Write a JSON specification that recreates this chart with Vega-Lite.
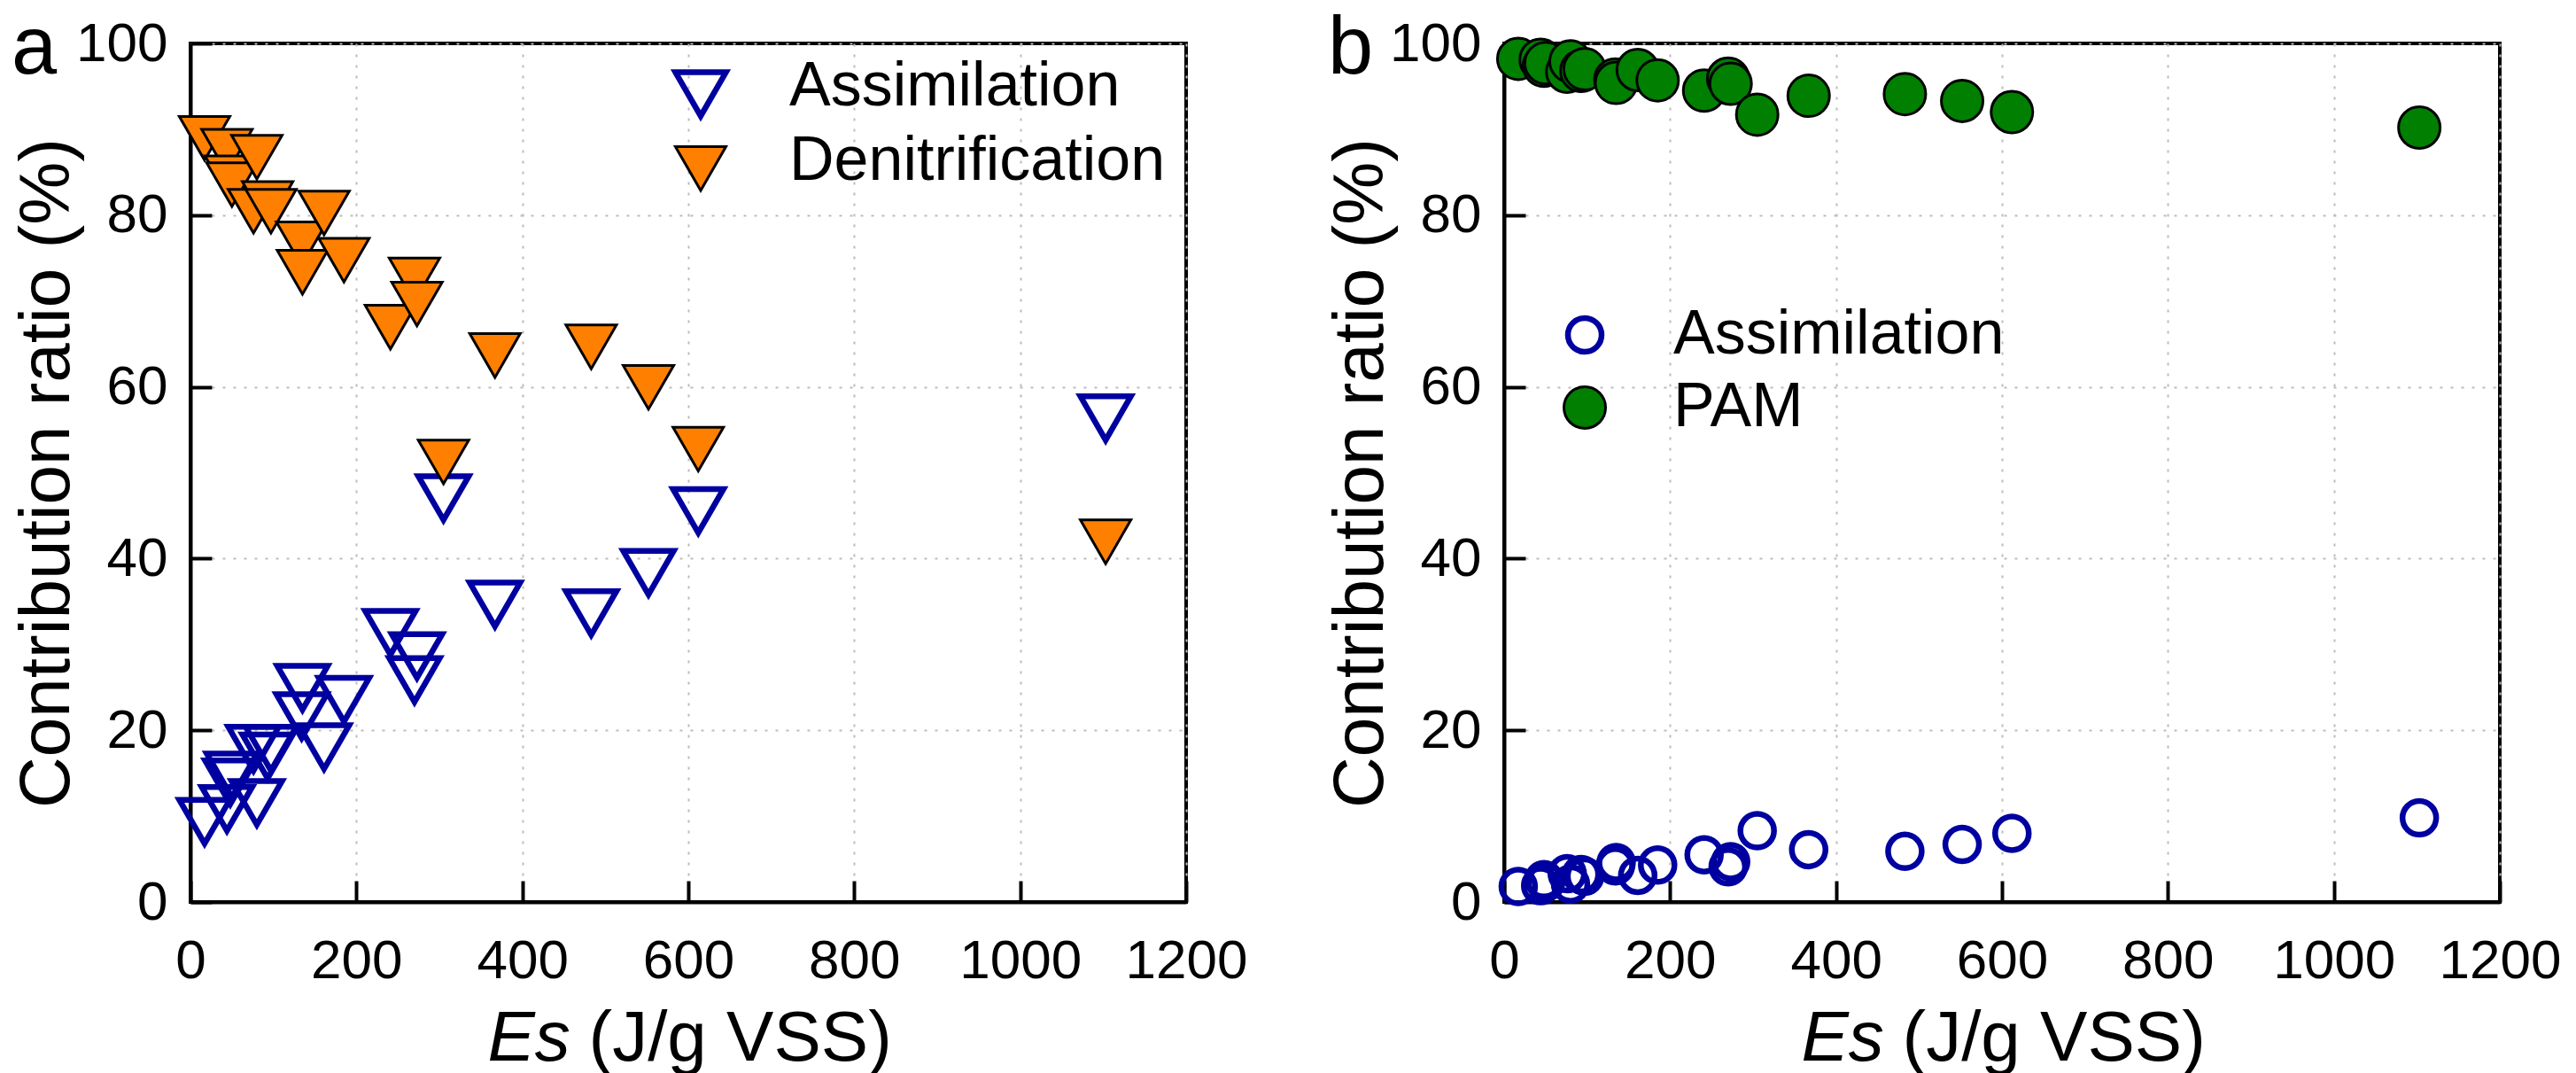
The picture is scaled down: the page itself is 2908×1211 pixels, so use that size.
{
  "$schema": "https://vega.github.io/schema/vega-lite/v6.json",
  "autosize": {"type": "pad"},
  "padding": {"left": 11, "top": 7, "right": 0, "bottom": 0},
  "background": "white",
  "config": {
    "font": "Liberation Sans",
    "view": {"stroke": "black", "strokeWidth": 4},
    "axis": {
      "domainColor": "black", "domainWidth": 4,
      "tickColor": "black", "tickWidth": 4, "tickSize": -24,
      "labelFont": "Liberation Sans", "labelFontSize": 62, "labelColor": "black",
      "labelFlush": false, "labelOverlap": false,
      "titleFont": "Liberation Sans", "titleFontSize": 80, "titleFontWeight": "normal", "titleColor": "black",
      "gridColor": "#BBBBBB", "gridDash": [3, 9], "gridWidth": 2
    },
    "legend": {
      "labelFont": "Liberation Sans", "labelFontSize": 70, "labelColor": "black",
      "labelLimit": 2000, "padding": 0, "title": null
    },
    "title": {"font": "Liberation Sans", "fontSize": 92, "fontWeight": "normal", "color": "black"}
  },
  "datasets": {
    "a": [
      {"es": 17, "ratio": 10.2, "series": "Assimilation"},
      {"es": 44, "ratio": 11.7, "series": "Assimilation"},
      {"es": 48, "ratio": 14.8, "series": "Assimilation"},
      {"es": 50, "ratio": 15.6, "series": "Assimilation"},
      {"es": 76, "ratio": 18.7, "series": "Assimilation"},
      {"es": 80, "ratio": 12.4, "series": "Assimilation"},
      {"es": 93, "ratio": 17.8, "series": "Assimilation"},
      {"es": 97, "ratio": 18.7, "series": "Assimilation"},
      {"es": 134, "ratio": 22.5, "series": "Assimilation"},
      {"es": 135, "ratio": 25.8, "series": "Assimilation"},
      {"es": 161, "ratio": 18.9, "series": "Assimilation"},
      {"es": 185, "ratio": 24.4, "series": "Assimilation"},
      {"es": 241, "ratio": 32.2, "series": "Assimilation"},
      {"es": 270, "ratio": 26.7, "series": "Assimilation"},
      {"es": 273, "ratio": 29.5, "series": "Assimilation"},
      {"es": 305, "ratio": 47.9, "series": "Assimilation"},
      {"es": 367, "ratio": 35.5, "series": "Assimilation"},
      {"es": 483, "ratio": 34.5, "series": "Assimilation"},
      {"es": 552, "ratio": 39.2, "series": "Assimilation"},
      {"es": 612, "ratio": 46.4, "series": "Assimilation"},
      {"es": 1103, "ratio": 57.2, "series": "Assimilation"},
      {"es": 17, "ratio": 89.8, "series": "Denitrification"},
      {"es": 44, "ratio": 88.3, "series": "Denitrification"},
      {"es": 48, "ratio": 85.2, "series": "Denitrification"},
      {"es": 50, "ratio": 84.4, "series": "Denitrification"},
      {"es": 76, "ratio": 81.3, "series": "Denitrification"},
      {"es": 80, "ratio": 87.6, "series": "Denitrification"},
      {"es": 93, "ratio": 82.2, "series": "Denitrification"},
      {"es": 97, "ratio": 81.3, "series": "Denitrification"},
      {"es": 134, "ratio": 77.5, "series": "Denitrification"},
      {"es": 135, "ratio": 74.2, "series": "Denitrification"},
      {"es": 161, "ratio": 81.1, "series": "Denitrification"},
      {"es": 185, "ratio": 75.6, "series": "Denitrification"},
      {"es": 241, "ratio": 67.8, "series": "Denitrification"},
      {"es": 270, "ratio": 73.3, "series": "Denitrification"},
      {"es": 273, "ratio": 70.5, "series": "Denitrification"},
      {"es": 305, "ratio": 52.1, "series": "Denitrification"},
      {"es": 367, "ratio": 64.5, "series": "Denitrification"},
      {"es": 483, "ratio": 65.5, "series": "Denitrification"},
      {"es": 552, "ratio": 60.8, "series": "Denitrification"},
      {"es": 612, "ratio": 53.6, "series": "Denitrification"},
      {"es": 1103, "ratio": 42.8, "series": "Denitrification"}
    ],
    "b": [
      {"es": 17, "ratio": 1.8, "series": "Assimilation"},
      {"es": 44, "ratio": 1.9, "series": "Assimilation"},
      {"es": 48, "ratio": 2.6, "series": "Assimilation"},
      {"es": 50, "ratio": 2.3, "series": "Assimilation"},
      {"es": 76, "ratio": 3.3, "series": "Assimilation"},
      {"es": 80, "ratio": 2.1, "series": "Assimilation"},
      {"es": 93, "ratio": 3.2, "series": "Assimilation"},
      {"es": 97, "ratio": 3.0, "series": "Assimilation"},
      {"es": 134, "ratio": 4.2, "series": "Assimilation"},
      {"es": 135, "ratio": 4.6, "series": "Assimilation"},
      {"es": 161, "ratio": 3.1, "series": "Assimilation"},
      {"es": 185, "ratio": 4.3, "series": "Assimilation"},
      {"es": 241, "ratio": 5.5, "series": "Assimilation"},
      {"es": 270, "ratio": 4.1, "series": "Assimilation"},
      {"es": 273, "ratio": 4.7, "series": "Assimilation"},
      {"es": 305, "ratio": 8.3, "series": "Assimilation"},
      {"es": 367, "ratio": 6.1, "series": "Assimilation"},
      {"es": 483, "ratio": 5.9, "series": "Assimilation"},
      {"es": 552, "ratio": 6.7, "series": "Assimilation"},
      {"es": 612, "ratio": 8.0, "series": "Assimilation"},
      {"es": 1103, "ratio": 9.8, "series": "Assimilation"},
      {"es": 17, "ratio": 98.2, "series": "PAM"},
      {"es": 44, "ratio": 98.1, "series": "PAM"},
      {"es": 48, "ratio": 97.4, "series": "PAM"},
      {"es": 50, "ratio": 97.7, "series": "PAM"},
      {"es": 76, "ratio": 96.7, "series": "PAM"},
      {"es": 80, "ratio": 97.9, "series": "PAM"},
      {"es": 93, "ratio": 96.8, "series": "PAM"},
      {"es": 97, "ratio": 97.0, "series": "PAM"},
      {"es": 134, "ratio": 95.8, "series": "PAM"},
      {"es": 135, "ratio": 95.4, "series": "PAM"},
      {"es": 161, "ratio": 96.9, "series": "PAM"},
      {"es": 185, "ratio": 95.7, "series": "PAM"},
      {"es": 241, "ratio": 94.5, "series": "PAM"},
      {"es": 270, "ratio": 95.9, "series": "PAM"},
      {"es": 273, "ratio": 95.3, "series": "PAM"},
      {"es": 305, "ratio": 91.7, "series": "PAM"},
      {"es": 367, "ratio": 93.9, "series": "PAM"},
      {"es": 483, "ratio": 94.1, "series": "PAM"},
      {"es": 552, "ratio": 93.3, "series": "PAM"},
      {"es": 612, "ratio": 92.0, "series": "PAM"},
      {"es": 1103, "ratio": 90.2, "series": "PAM"}
    ]
  },
  "spacing": 359,
  "bounds": "flush",
  "resolve": {
    "scale": {"x": "independent", "y": "independent", "fill": "independent", "stroke": "independent", "strokeWidth": "independent", "size": "independent"},
    "legend": {"fill": "independent", "stroke": "independent", "strokeWidth": "independent", "size": "independent"}
  },
  "hconcat": [
    {
      "width": 1124,
      "height": 969,
      "data": {"name": "a"},
      "title": {"text": "a", "anchor": "start", "frame": "group", "offset": 0, "dx": -202, "dy": 157, "baseline": "alphabetic"},
      "resolve": {"axis": {"x": "independent"}},
      "layer": [
        {
          "transform": [{"filter": "datum.series === 'Assimilation'"}],
          "mark": {"type": "point", "shape": "M-1,-0.57735L1,-0.57735L0,1.1547Z", "size": 3249, "opacity": 1, "filled": true},
          "encoding": {
            "x": {"field": "es", "type": "quantitative", "scale": {"domain": [0, 1200], "nice": false, "zero": false},
              "axis": {"orient": "bottom", "values": [0, 200, 400, 600, 800, 1000, 1200], "format": "d", "grid": true, "labelPadding": 60, "title": "(J/g VSS)", "titleX": 449, "titleY": 178, "titleAlign": "left", "titleBaseline": "alphabetic"}},
            "y": {"field": "ratio", "type": "quantitative", "scale": {"domain": [0, 100], "nice": false},
              "axis": {"values": [0, 20, 40, 60, 80, 100], "grid": true, "labelPadding": 50, "title": "Contribution ratio (%)", "titlePadding": 8, "titleBaseline": "alphabetic"}},
            "fill": {"field": "series", "type": "nominal", "scale": {"domain": ["Assimilation", "Denitrification"], "range": ["transparent", "#FF8000"]},
              "legend": {"orient": "none", "legendX": 541, "legendY": 14, "symbolType": "M-1,-0.57735L1,-0.57735L0,1.1547Z", "symbolSize": 3249, "labelOffset": 65, "rowPadding": 3}},
            "stroke": {"field": "series", "type": "nominal", "scale": {"domain": ["Assimilation", "Denitrification"], "range": ["#0000A0", "#000000"]}},
            "strokeWidth": {"field": "series", "type": "nominal", "scale": {"type": "ordinal", "domain": ["Assimilation", "Denitrification"], "range": [6.5, 3]}}
          }
        },
        {
          "transform": [{"filter": "datum.series === 'Denitrification'"}],
          "mark": {"type": "point", "shape": "M-1,-0.57735L1,-0.57735L0,1.1547Z", "size": 3249, "opacity": 1, "filled": true},
          "encoding": {
            "x": {"field": "es", "type": "quantitative", "scale": {"domain": [0, 1200], "nice": false, "zero": false},
              "axis": {"orient": "bottom", "domain": false, "ticks": false, "labels": false, "grid": false, "title": "Es", "titleFontStyle": "italic", "titleX": 335, "titleY": 178, "titleAlign": "left", "titleBaseline": "alphabetic"}},
            "y": {"field": "ratio", "type": "quantitative", "scale": {"domain": [0, 100], "nice": false},
              "axis": {"values": [0, 20, 40, 60, 80, 100], "grid": true, "labelPadding": 50, "title": "Contribution ratio (%)", "titlePadding": 8, "titleBaseline": "alphabetic"}},
            "fill": {"field": "series", "type": "nominal", "scale": {"domain": ["Assimilation", "Denitrification"], "range": ["transparent", "#FF8000"]},
              "legend": {"orient": "none", "legendX": 541, "legendY": 14, "symbolType": "M-1,-0.57735L1,-0.57735L0,1.1547Z", "symbolSize": 3249, "labelOffset": 65, "rowPadding": 3}},
            "stroke": {"field": "series", "type": "nominal", "scale": {"domain": ["Assimilation", "Denitrification"], "range": ["#0000A0", "#000000"]}},
            "strokeWidth": {"field": "series", "type": "nominal", "scale": {"type": "ordinal", "domain": ["Assimilation", "Denitrification"], "range": [6.5, 3]}}
          }
        }
      ]
    },
    {
      "width": 1124,
      "height": 969,
      "data": {"name": "b"},
      "title": {"text": "b", "anchor": "start", "frame": "group", "offset": 0, "dx": -199, "dy": 157, "baseline": "alphabetic"},
      "resolve": {"axis": {"x": "independent"}},
      "layer": [
        {
          "transform": [{"filter": "datum.series === 'Assimilation'"}],
          "mark": {"type": "point", "shape": "circle", "opacity": 1, "filled": true},
          "encoding": {
            "x": {"field": "es", "type": "quantitative", "scale": {"domain": [0, 1200], "nice": false, "zero": false},
              "axis": {"orient": "bottom", "values": [0, 200, 400, 600, 800, 1000, 1200], "format": "d", "grid": true, "labelPadding": 60, "title": "(J/g VSS)", "titleX": 449, "titleY": 178, "titleAlign": "left", "titleBaseline": "alphabetic"}},
            "y": {"field": "ratio", "type": "quantitative", "scale": {"domain": [0, 100], "nice": false},
              "axis": {"values": [0, 20, 40, 60, 80, 100], "grid": true, "labelPadding": 50, "title": "Contribution ratio (%)", "titlePadding": 8, "titleBaseline": "alphabetic"}},
            "fill": {"field": "series", "type": "nominal", "scale": {"domain": ["Assimilation", "PAM"], "range": ["transparent", "#007F00"]},
              "legend": {"orient": "none", "legendX": 56, "legendY": 294, "symbolType": "circle", "labelOffset": 65, "rowPadding": 12}},
            "stroke": {"field": "series", "type": "nominal", "scale": {"domain": ["Assimilation", "PAM"], "range": ["#0000A0", "#000000"]}},
            "strokeWidth": {"field": "series", "type": "nominal", "scale": {"type": "ordinal", "domain": ["Assimilation", "PAM"], "range": [6.5, 3]}},
            "size": {"field": "series", "type": "nominal", "scale": {"type": "ordinal", "domain": ["Assimilation", "PAM"], "range": [1444, 2209]}}
          }
        },
        {
          "transform": [{"filter": "datum.series === 'PAM'"}],
          "mark": {"type": "point", "shape": "circle", "opacity": 1, "filled": true},
          "encoding": {
            "x": {"field": "es", "type": "quantitative", "scale": {"domain": [0, 1200], "nice": false, "zero": false},
              "axis": {"orient": "bottom", "domain": false, "ticks": false, "labels": false, "grid": false, "title": "Es", "titleFontStyle": "italic", "titleX": 335, "titleY": 178, "titleAlign": "left", "titleBaseline": "alphabetic"}},
            "y": {"field": "ratio", "type": "quantitative", "scale": {"domain": [0, 100], "nice": false},
              "axis": {"values": [0, 20, 40, 60, 80, 100], "grid": true, "labelPadding": 50, "title": "Contribution ratio (%)", "titlePadding": 8, "titleBaseline": "alphabetic"}},
            "fill": {"field": "series", "type": "nominal", "scale": {"domain": ["Assimilation", "PAM"], "range": ["transparent", "#007F00"]},
              "legend": {"orient": "none", "legendX": 56, "legendY": 294, "symbolType": "circle", "labelOffset": 65, "rowPadding": 12}},
            "stroke": {"field": "series", "type": "nominal", "scale": {"domain": ["Assimilation", "PAM"], "range": ["#0000A0", "#000000"]}},
            "strokeWidth": {"field": "series", "type": "nominal", "scale": {"type": "ordinal", "domain": ["Assimilation", "PAM"], "range": [6.5, 3]}},
            "size": {"field": "series", "type": "nominal", "scale": {"type": "ordinal", "domain": ["Assimilation", "PAM"], "range": [1444, 2209]}}
          }
        }
      ]
    }
  ]
}
